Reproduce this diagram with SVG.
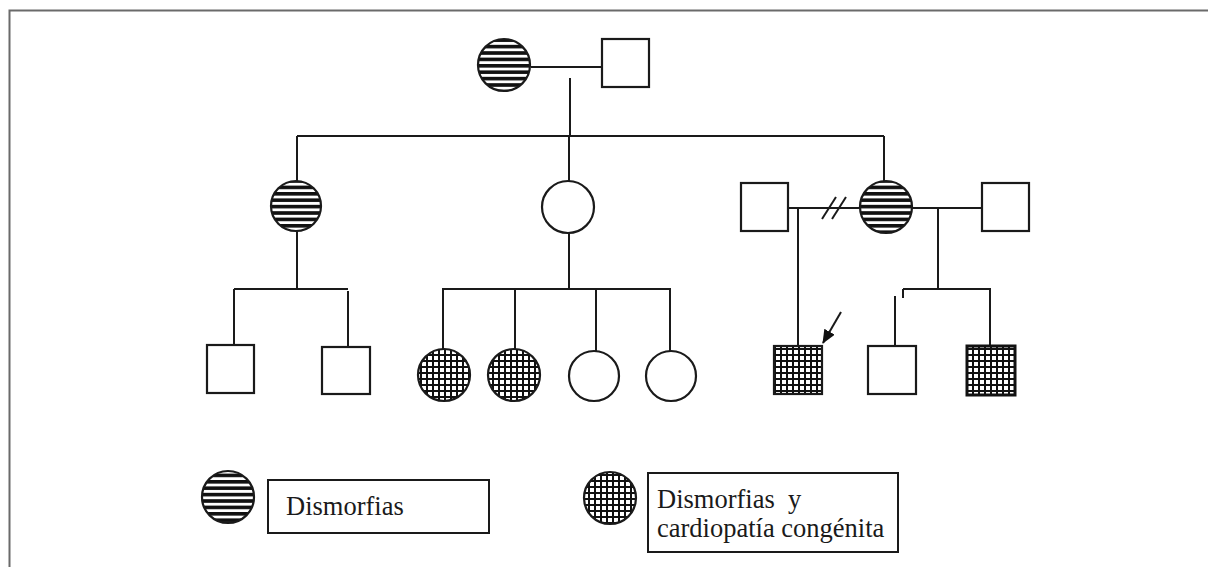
<svg xmlns="http://www.w3.org/2000/svg" width="1208" height="567" viewBox="0 0 1208 567">
<style>
.ln{stroke:#1a1a1a;stroke-width:2;fill:none}
.sh{stroke:#1a1a1a;stroke-width:2.2}
.open{fill:#fff}
.str{fill:url(#stripes)}
.grd{fill:url(#grid)}
.txt{font-family:"Liberation Serif","Times New Roman",serif;font-size:26.5px;fill:#1a1a1a}
.box{fill:#fff;stroke:#1a1a1a;stroke-width:2}
</style>
<defs>
<pattern id="stripes" patternUnits="userSpaceOnUse" width="10" height="6.4">
<rect width="10" height="6.4" fill="#fff"/>
<rect width="10" height="3.6" fill="#111"/>
</pattern>
<pattern id="grid" patternUnits="userSpaceOnUse" width="6" height="6">
<rect width="6" height="6" fill="#fff"/>
<rect width="2" height="6" fill="#111"/>
<rect width="6" height="2" fill="#111"/>
</pattern>
<marker id="ah" markerWidth="14" markerHeight="12" refX="13" refY="6" orient="auto" markerUnits="userSpaceOnUse">
<path d="M0,0 L14,6 L0,12 Z" fill="#111"/>
</marker>
</defs>
<rect width="1208" height="567" fill="#fff"/>
<path d="M9.5,567 V10.5 H1208" fill="none" stroke="#6a6a6a" stroke-width="2"/>
<g id="connectors">
<line class="ln" x1="531" y1="67" x2="602" y2="67"/>
<line class="ln" x1="570" y1="78" x2="570" y2="136"/>
<line class="ln" x1="297" y1="136" x2="884" y2="136"/>
<line class="ln" x1="297" y1="136" x2="297" y2="181"/>
<line class="ln" x1="569" y1="136" x2="569" y2="181"/>
<line class="ln" x1="884" y1="136" x2="884" y2="181"/>
<line class="ln" x1="297" y1="231" x2="297" y2="289"/>
<line class="ln" x1="234" y1="289" x2="348" y2="289"/>
<line class="ln" x1="234" y1="289" x2="234" y2="345"/>
<line class="ln" x1="348" y1="291" x2="348" y2="349"/>
<line class="ln" x1="569" y1="233" x2="569" y2="289"/>
<line class="ln" x1="442" y1="289" x2="671" y2="289"/>
<line class="ln" x1="443" y1="289" x2="443" y2="350"/>
<line class="ln" x1="515" y1="289" x2="515" y2="350"/>
<line class="ln" x1="596" y1="289" x2="596" y2="351"/>
<line class="ln" x1="670" y1="289" x2="670" y2="351"/>
<line class="ln" x1="788" y1="208" x2="859" y2="208"/>
<line class="ln" x1="822" y1="219" x2="836" y2="197"/>
<line class="ln" x1="832" y1="219" x2="846" y2="197"/>
<line class="ln" x1="912" y1="208" x2="982" y2="208"/>
<line class="ln" x1="798" y1="208" x2="798" y2="346"/>
<line class="ln" x1="938" y1="208" x2="938" y2="289"/>
<line class="ln" x1="903" y1="289" x2="991" y2="289"/>
<line class="ln" x1="903" y1="289" x2="903" y2="298"/>
<line class="ln" x1="895" y1="296" x2="895" y2="346"/>
<line class="ln" x1="990" y1="289" x2="990" y2="346"/>
<line class="ln" x1="841" y1="312" x2="823" y2="343" marker-end="url(#ah)"/>
</g>
<g id="I-1"><circle class="sh str" cx="504" cy="65" r="26"/></g>
<g id="I-2"><rect class="sh open" x="602" y="39" width="47" height="48"/></g>
<g id="II-1"><circle class="sh str" cx="296" cy="206" r="25"/></g>
<g id="II-2"><circle class="sh open" cx="568" cy="207" r="26"/></g>
<g id="II-3"><circle class="sh str" cx="886" cy="207" r="26"/></g>
<g id="II-4"><rect class="sh open" x="741" y="183" width="47" height="48"/></g>
<g id="II-5"><rect class="sh open" x="982" y="183" width="47" height="48"/></g>
<g id="III-1"><rect class="sh open" x="207" y="345" width="47" height="48"/></g>
<g id="III-2"><rect class="sh open" x="322" y="347" width="48" height="47"/></g>
<g id="III-3"><circle class="sh grd" cx="444" cy="375" r="26"/></g>
<g id="III-4"><circle class="sh grd" cx="514" cy="375" r="26"/></g>
<g id="III-5"><circle class="sh open" cx="594" cy="376" r="25"/></g>
<g id="III-6"><circle class="sh open" cx="671" cy="376" r="25"/></g>
<g id="III-7"><rect class="sh grd" x="774" y="346" width="48" height="48"/></g>
<g id="III-8"><rect class="sh open" x="868" y="346" width="48" height="48"/></g>
<g id="III-9"><rect class="grd" x="967" y="346" width="48" height="49" stroke="#111" stroke-width="3"/></g>
<g id="legend-1">
<circle class="sh str" cx="228" cy="497" r="26"/>
<rect class="box" x="268" y="480" width="221" height="53"/>
<text class="txt" x="286" y="515">Dismorfias</text>
</g>
<g id="legend-2">
<circle class="sh grd" cx="610" cy="498" r="26"/>
<rect class="box" x="648" y="473" width="250" height="79"/>
<text class="txt" x="657" y="508">Dismorfias&#160; y</text>
<text class="txt" x="657" y="537">cardiopatía congénita</text>
</g>
</svg>
